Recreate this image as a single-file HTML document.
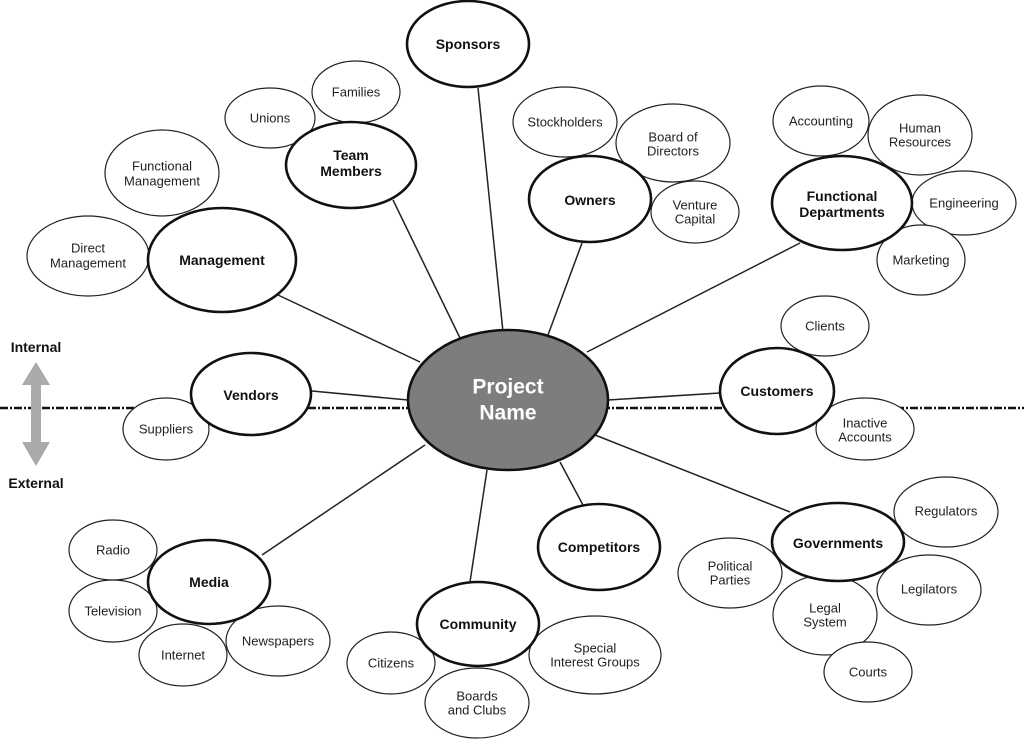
<!DOCTYPE html>
<html><head><meta charset="utf-8"><style>
html,body{margin:0;padding:0;background:#fff}
svg{display:block}
text{font-family:"Liberation Sans","DejaVu Sans",sans-serif;text-anchor:middle;dominant-baseline:central}
.m{font-size:13px;fill:#222}
.b{font-size:14px;font-weight:bold;fill:#111}
</style></head><body>
<svg width="1024" height="739" viewBox="0 0 1024 739" xmlns="http://www.w3.org/2000/svg">
<g stroke="#222" stroke-width="1.5">
<line x1="503" y1="332" x2="478" y2="88"/>
<line x1="460" y1="338" x2="393" y2="200"/>
<line x1="548" y1="335" x2="582" y2="243"/>
<line x1="587" y1="352" x2="800" y2="243"/>
<line x1="420" y1="362" x2="278" y2="295"/>
<line x1="408" y1="400" x2="312" y2="391"/>
<line x1="608" y1="400" x2="720" y2="393"/>
<line x1="425" y1="445" x2="262" y2="555"/>
<line x1="487" y1="470" x2="470" y2="582"/>
<line x1="560" y1="462" x2="583" y2="505"/>
<line x1="595" y1="435" x2="790" y2="512"/>
</g>
<line x1="0" y1="408" x2="1024" y2="408" stroke="#111" stroke-width="2.5" stroke-dasharray="8,2,2,2"/>
<polygon points="36,362 50,385 41,385 41,442 50,442 36,466 22,442 31,442 31,385 22,385" fill="#aaa"/>
<text x="36" y="347" class="b">Internal</text>
<text x="36" y="483" class="b">External</text>
<g fill="#fff" stroke="#222" stroke-width="1.2">
<ellipse cx="356" cy="92" rx="44" ry="31"/>
<ellipse cx="270" cy="118" rx="45" ry="30"/>
<ellipse cx="162" cy="173" rx="57" ry="43"/>
<ellipse cx="88" cy="256" rx="61" ry="40"/>
<ellipse cx="565" cy="122" rx="52" ry="35"/>
<ellipse cx="673" cy="143" rx="57" ry="39"/>
<ellipse cx="695" cy="212" rx="44" ry="31"/>
<ellipse cx="821" cy="121" rx="48" ry="35"/>
<ellipse cx="920" cy="135" rx="52" ry="40"/>
<ellipse cx="964" cy="203" rx="52" ry="32"/>
<ellipse cx="921" cy="260" rx="44" ry="35"/>
<ellipse cx="825" cy="326" rx="44" ry="30"/>
<ellipse cx="865" cy="429" rx="49" ry="31"/>
<ellipse cx="166" cy="429" rx="43" ry="31"/>
<ellipse cx="946" cy="512" rx="52" ry="35"/>
<ellipse cx="730" cy="573" rx="52" ry="35"/>
<ellipse cx="929" cy="590" rx="52" ry="35"/>
<ellipse cx="825" cy="615" rx="52" ry="40"/>
<ellipse cx="868" cy="672" rx="44" ry="30"/>
<ellipse cx="113" cy="550" rx="44" ry="30"/>
<ellipse cx="113" cy="611" rx="44" ry="31"/>
<ellipse cx="183" cy="655" rx="44" ry="31"/>
<ellipse cx="278" cy="641" rx="52" ry="35"/>
<ellipse cx="391" cy="663" rx="44" ry="31"/>
<ellipse cx="477" cy="703" rx="52" ry="35"/>
<ellipse cx="595" cy="655" rx="66" ry="39"/>
</g>
<g fill="#fff" stroke="#111" stroke-width="2.6">
<ellipse cx="468" cy="44" rx="61" ry="43"/>
<ellipse cx="351" cy="165" rx="65" ry="43"/>
<ellipse cx="590" cy="199" rx="61" ry="43"/>
<ellipse cx="842" cy="203" rx="70" ry="47"/>
<ellipse cx="222" cy="260" rx="74" ry="52"/>
<ellipse cx="251" cy="394" rx="60" ry="41"/>
<ellipse cx="777" cy="391" rx="57" ry="43"/>
<ellipse cx="209" cy="582" rx="61" ry="42"/>
<ellipse cx="478" cy="624" rx="61" ry="42"/>
<ellipse cx="599" cy="547" rx="61" ry="43"/>
<ellipse cx="838" cy="542" rx="66" ry="39"/>
</g>
<ellipse cx="508" cy="400" rx="100" ry="70" fill="#7d7d7d" stroke="#111" stroke-width="2.6"/>
<text x="508" y="387" style="font-size:21px;font-weight:bold;fill:#fff">Project</text>
<text x="508" y="413" style="font-size:21px;font-weight:bold;fill:#fff">Name</text>
<g>
<text x="468" y="44" class="b">Sponsors</text>
<text x="351" y="155" class="b">Team</text><text x="351" y="171" class="b">Members</text>
<text x="590" y="200" class="b">Owners</text>
<text x="842" y="196" class="b">Functional</text><text x="842" y="212" class="b">Departments</text>
<text x="222" y="260" class="b">Management</text>
<text x="251" y="395" class="b">Vendors</text>
<text x="777" y="391" class="b">Customers</text>
<text x="209" y="582" class="b">Media</text>
<text x="478" y="624" class="b">Community</text>
<text x="599" y="547" class="b">Competitors</text>
<text x="838" y="543" class="b">Governments</text>
</g>
<g>
<text x="356" y="92" class="m">Families</text>
<text x="270" y="118" class="m">Unions</text>
<text x="162" y="166" class="m">Functional</text><text x="162" y="181" class="m">Management</text>
<text x="88" y="248" class="m">Direct</text><text x="88" y="263" class="m">Management</text>
<text x="565" y="122" class="m">Stockholders</text>
<text x="673" y="137" class="m">Board of</text><text x="673" y="151" class="m">Directors</text>
<text x="695" y="205" class="m">Venture</text><text x="695" y="219" class="m">Capital</text>
<text x="821" y="121" class="m">Accounting</text>
<text x="920" y="128" class="m">Human</text><text x="920" y="142" class="m">Resources</text>
<text x="964" y="203" class="m">Engineering</text>
<text x="921" y="260" class="m">Marketing</text>
<text x="825" y="326" class="m">Clients</text>
<text x="865" y="423" class="m">Inactive</text><text x="865" y="437" class="m">Accounts</text>
<text x="166" y="429" class="m">Suppliers</text>
<text x="946" y="511" class="m">Regulators</text>
<text x="730" y="566" class="m">Political</text><text x="730" y="580" class="m">Parties</text>
<text x="929" y="589" class="m">Legilators</text>
<text x="825" y="608" class="m">Legal</text><text x="825" y="622" class="m">System</text>
<text x="868" y="672" class="m">Courts</text>
<text x="113" y="550" class="m">Radio</text>
<text x="113" y="611" class="m">Television</text>
<text x="183" y="655" class="m">Internet</text>
<text x="278" y="641" class="m">Newspapers</text>
<text x="391" y="663" class="m">Citizens</text>
<text x="477" y="696" class="m">Boards</text><text x="477" y="710" class="m">and Clubs</text>
<text x="595" y="648" class="m">Special</text><text x="595" y="662" class="m">Interest Groups</text>
</g>
</svg>
</body></html>
